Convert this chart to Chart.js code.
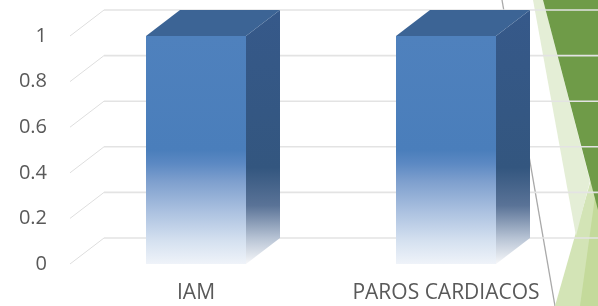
<!DOCTYPE html>
<html>
<head>
<meta charset="utf-8">
<script src="https://cdn.jsdelivr.net/npm/chart.js@4/dist/chart.umd.min.js"></script>
<style>
  html, body { margin: 0; padding: 0; background: #fff; }
  #wrap { position: relative; width: 598px; height: 306px; overflow: hidden; }
  #deco, #chart { position: absolute; left: 0; top: 0; }
</style>
</head>
<body>
<div id="wrap">
  <!-- slide decoration behind the chart -->
  <svg id="deco" width="598" height="306">
    <line x1="502" y1="0" x2="555" y2="306" stroke="#a9a9a9" stroke-width="1.3"/>
    <polygon points="598,155 555,306 598,306" fill="#d3e4b6"/>
    <polygon points="598,175 580,306 598,306" fill="#c4da9b"/>
    <polygon points="533,0 543,0 590,181 576,236" fill="#e4eed6"/>
    <polygon points="543,0 598,0 598,210" fill="#6f9b48"/>
  </svg>
  <canvas id="chart" width="598" height="306"></canvas>
</div>
<script>
//-- Data//
const categories = ['IAM', 'PAROS CARDIACOS'];
const values = [1, 1];

//-- 3d look//
const DX = 34;
const DY = 26;

function frontGradient(chart) {
    const area = chart.chartArea;
    if (!area) return '#4f81bd';
    const g = chart.ctx.createLinearGradient(0, area.top, 0, area.bottom);
    g.addColorStop(0, '#4f81bd');
    g.addColorStop(0.5, '#4a7ebb');
    g.addColorStop(0.56, '#5c89c3');
    g.addColorStop(0.64, '#7fa0ce');
    g.addColorStop(0.77, '#abc1e0');
    g.addColorStop(0.9, '#d5e1f0');
    g.addColorStop(1, '#eff3f9');
    return g;
}

const depth3d = {
    id: 'depth3d',
    beforeDatasetsDraw(chart) {
        const { ctx, chartArea, scales } = chart;
        const y = scales.y;
        ctx.save();
        y.ticks.forEach(t => {
            const py = y.getPixelForValue(t.value);
            // floor side line
            ctx.strokeStyle = '#dedede';
            ctx.lineWidth = 1;
            ctx.beginPath();
            ctx.moveTo(chartArea.left - 1, py);
            ctx.lineTo(chartArea.left - 1 + DX, py - DY);
            ctx.stroke();
            // back wall line
            ctx.strokeStyle = '#e3e3e3';
            ctx.lineWidth = 1.6;
            ctx.beginPath();
            ctx.moveTo(chartArea.left - 1 + DX, py - DY);
            ctx.lineTo(chart.width, py - DY);
            ctx.stroke();
        });
        ctx.restore();
    },
    afterDatasetsDraw(chart) {
        const { ctx } = chart;
        const meta = chart.getDatasetMeta(0);
        ctx.save();
        meta.data.forEach(bar => {
            const p = bar.getProps(['x', 'y', 'width', 'base'], true);
            const l = p.x - p.width / 2;
            const r = p.x + p.width / 2;
            const top = p.y;
            const base = p.base;

            // side face
            const sg = ctx.createLinearGradient(0, top - DY, 0, base);
            sg.addColorStop(0, '#36598a');
            sg.addColorStop(0.62, '#33567f');
            sg.addColorStop(0.77, '#5a7397');
            sg.addColorStop(0.9, '#b8c4d5');
            sg.addColorStop(1, '#f6f7f9');
            ctx.fillStyle = sg;
            ctx.beginPath();
            ctx.moveTo(r, top);
            ctx.lineTo(r + DX, top - DY);
            ctx.lineTo(r + DX, base - DY);
            ctx.lineTo(r, base);
            ctx.closePath();
            ctx.fill();

            // top face
            ctx.fillStyle = '#3c6495';
            ctx.beginPath();
            ctx.moveTo(l, top);
            ctx.lineTo(l + DX, top - DY);
            ctx.lineTo(r + DX, top - DY);
            ctx.lineTo(r, top);
            ctx.closePath();
            ctx.fill();
        });
        ctx.restore();
    }
};

const ctx = document.getElementById('chart');

new Chart(ctx, {
    type: 'bar',
    data: {
        labels: categories,
        datasets: [
            {
                data: values,
                backgroundColor: c => frontGradient(c.chart),
                borderWidth: 0,
                barPercentage: 0.4,
                categoryPercentage: 1
            }
        ]
    },
    options: {
        responsive: false,
        animation: false,
        devicePixelRatio: 1,
        layout: { padding: { left: 18, right: 27, top: 36, bottom: 3 } },
        plugins: {
            legend: { display: false },
            tooltip: { enabled: false }
        },
        scales: {
            x: {
                grid: { display: false, drawTicks: false },
                border: { display: false },
                afterFit: s => { s.height = 39; },
                ticks: {
                    color: '#595959',
                    font: { family: 'Open Sans', size: 21 },
                    padding: 16,
                    maxRotation: 0
                }
            },
            y: {
                min: 0,
                max: 1,
                grid: { display: false, drawTicks: false },
                border: { display: false },
                afterFit: s => { s.width = 53; },
                ticks: {
                    stepSize: 0.2,
                    color: '#595959',
                    font: { family: 'Open Sans', size: 20 },
                    padding: 24,
                    callback: v => String(Math.round(v * 10) / 10)
                }
            }
        }
    },
    plugins: [depth3d]
});
</script>
</body>
</html>
